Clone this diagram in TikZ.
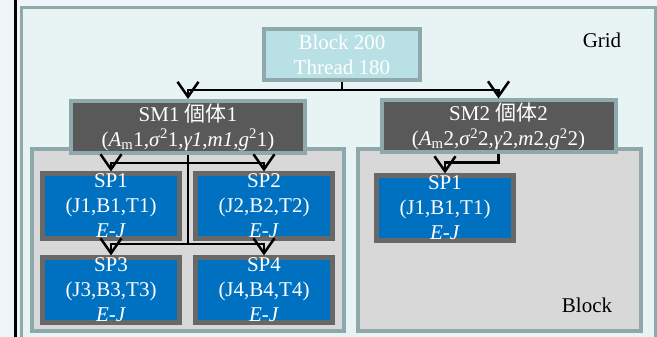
\documentclass[tikz,border=0pt]{standalone}
\usepackage{fontspec}
\setmainfont{Liberation Serif}
\newfontfamily\cjk{Noto Sans CJK JP}
\usetikzlibrary{arrows.meta}
\definecolor{pagebg}{HTML}{EDF5FB}
\definecolor{gridfill}{HTML}{E8F3F4}
\definecolor{frame}{HTML}{8EA8AB}
\definecolor{blkfill}{HTML}{B9E0E4}
\definecolor{smfill}{HTML}{595959}
\definecolor{bfill}{HTML}{D8D8D8}
\definecolor{spfill}{HTML}{0070C0}
\definecolor{spframe}{HTML}{686868}
\tikzset{
  box/.style={draw=frame, line width=4pt, inner sep=0pt, align=center,
    font=\fontsize{21}{25}\selectfont, text=white},
  smbox/.style={box, fill=smfill, minimum width=234pt, minimum height=52pt},
  blockbox/.style={box, fill=bfill, minimum height=181pt},
  spbox/.style={box, draw=spframe, line width=5pt, fill=spfill,
    minimum width=137pt, minimum height=64pt},
  link/.style={line width=2.5pt},
  arr/.style={link, -{Straight Barb[length=15pt,width=21pt]}}
}
\begin{document}
\begin{tikzpicture}[x=1pt,y=-1pt]
	\useasboundingbox[fill=pagebg] (0,0) rectangle (657,337);
	\clip (0,0) rectangle (657,337);
	\fill[black] (14,0) rectangle (17,337);
	% outer grid
	\node[draw=frame, line width=3pt, fill=gridfill, minimum width=634pt, minimum height=360pt, anchor=north west] (grid) at (19.5,6.5) {};
	\node[font=\fontsize{21}{25}\selectfont] (gridlbl) at (602,40) {Grid};
	% blocks
	\node[blockbox, minimum width=312pt] (blk1) at (188,240) {};
	\node[blockbox, minimum width=283pt] (blk2) at (499.5,240) {};
	\node[font=\fontsize{21}{25}\selectfont] (blklbl) at (587,305) {Block};
	% host
	\node[box, fill=blkfill, minimum width=156pt, minimum height=51pt] (host) at (342,54.5) {Block 200\\Thread 180};
	% SMs
	\node[smbox] (sm1) at (188,127) {SM1 {\cjk 個体}1\\(\textit{A}\textsubscript{m}1,\textit{σ}\textsuperscript{2}1,\textit{γ1},\textit{m1},\textit{g}\textsuperscript{2}1)};
	\node[smbox] (sm2) at (498.5,126.5) {SM2 {\cjk 個体}2\\(\textit{A}\textsubscript{m}2,\textit{σ}\textsuperscript{2}2,\textit{γ}2,\textit{m}2,\textit{g}\textsuperscript{2}2)};
	% SPs
	\node[spbox] (sp1) at (111,206) {SP1\\(J1,B1,T1)\\\textit{E-J}};
	\node[spbox] (sp2) at (264,206) {SP2\\(J2,B2,T2)\\\textit{E-J}};
	\node[spbox] (sp3) at (111,290) {SP3\\(J3,B3,T3)\\\textit{E-J}};
	\node[spbox] (sp4) at (264,290) {SP4\\(J4,B4,T4)\\\textit{E-J}};
	\node[spbox] (sp5) at (445,208) {SP1\\(J1,B1,T1)\\\textit{E-J}};
	% links
	\coordinate (h1) at (342,90);
	\coordinate (j1) at (188,163);
	\coordinate (j2) at (188,244);
	\draw[link] (host.south) -- (h1);
	\draw[arr] (h1) -| (sm1.north);
	\draw[arr] (h1) -| (sm2.north);
	\draw[link] (sm1.south) -- (j2);
	\draw[arr] (j1) -| (sp1.north);
	\draw[arr] (j1) -| (sp2.north);
	\draw[arr] (j2) -| (sp3.north);
	\draw[arr] (j2) -| (sp4.north);
	\draw[arr] (sm2.south) -- ++(0,8) -| (sp5.north);
\end{tikzpicture}
\end{document}
